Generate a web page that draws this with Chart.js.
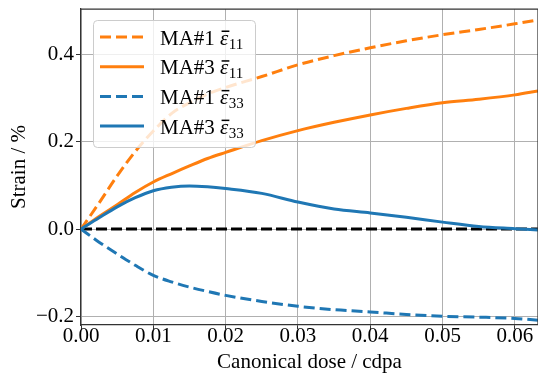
<!DOCTYPE html>
<html>
<head>
<meta charset="utf-8">
<script src="https://cdn.jsdelivr.net/npm/chart.js@4.4.0/dist/chart.umd.min.js"></script>
<style>
html, body { margin: 0; padding: 0; background: #fff; }
#wrap { width: 538px; height: 376px; }
</style>
</head>
<body>
<div id="wrap"><canvas id="chart" width="538" height="376"></canvas></div>
<script>
// Data (dose in cdpa, strain in %)
const doses  = [0, 0.0025, 0.005, 0.0075, 0.01, 0.0125, 0.015, 0.0175, 0.02, 0.025, 0.03, 0.035, 0.04, 0.045, 0.05, 0.055, 0.06, 0.0632];
const ma1E11 = [0, 0.06, 0.122, 0.178, 0.225, 0.265, 0.29, 0.31, 0.325, 0.35, 0.377, 0.398, 0.416, 0.432, 0.446, 0.458, 0.471, 0.48];
const ma3E11 = [0, 0.029, 0.056, 0.084, 0.108, 0.127, 0.145, 0.162, 0.176, 0.203, 0.226, 0.245, 0.262, 0.277, 0.29, 0.298, 0.308, 0.317];
const ma1E33 = [0, -0.03, -0.057, -0.083, -0.106, -0.121, -0.133, -0.143, -0.152, -0.166, -0.177, -0.185, -0.19, -0.196, -0.2, -0.202, -0.205, -0.209];
const ma3E33 = [0, 0.026, 0.051, 0.072, 0.088, 0.096, 0.099, 0.097, 0.093, 0.082, 0.062, 0.046, 0.037, 0.027, 0.016, 0.006, 0.001, -0.002];
const zeroLine = [0, 0];

const xTicks = [0, 0.01, 0.02, 0.03, 0.04, 0.05, 0.06];
const yTicks = [-0.2, 0, 0.2, 0.4];
const xRange = [0, 0.0632];
const yRange = [-0.22, 0.505];

const seriesNames = ['MA#1', 'MA#3', 'MA#1', 'MA#3'];
const seriesSubs = ['11', '11', '33', '33'];

const ORANGE = '#ff7f0e';
const BLUE = '#1f77b4';
const SERIF = '"Liberation Serif", "Times New Roman", serif';

const pts = ys => doses.map((d, i) => ({ x: d, y: ys[i] }));

function lineSet(label, ys, color, dashed, order) {
    return {
        label: label,
        data: pts(ys),
        borderColor: color,
        borderWidth: 3,
        borderDash: dashed ? [11, 5] : [],
        pointRadius: 0,
        cubicInterpolationMode: 'monotone',
        fill: false,
        order: order
    };
}

// frame (top/right spines) and the boxed legend inside the plot
const framePlugin = {
    id: 'frame',
    afterDatasetsDraw(chart) {
        const { ctx, chartArea: a } = chart;
        ctx.save();
        ctx.strokeStyle = '#333';
        ctx.lineWidth = 1.25;
        ctx.beginPath();
        ctx.moveTo(a.left, a.top);
        ctx.lineTo(a.right, a.top);
        ctx.lineTo(a.right, a.bottom);
        ctx.stroke();

        // legend box
        const bx = 93, by = 20, bw = 162, bh = 127;
        ctx.beginPath();
        ctx.roundRect(bx + 0.5, by + 0.5, bw, bh, 4);
        ctx.fillStyle = 'rgba(255,255,255,0.8)';
        ctx.fill();
        ctx.strokeStyle = '#cccccc';
        ctx.lineWidth = 1;
        ctx.stroke();

        chart.data.datasets.slice(0, 4).forEach((ds, i) => {
            const y = 37 + i * 29.7;
            ctx.save();
            ctx.strokeStyle = ds.borderColor;
            ctx.lineWidth = 3;
            ctx.setLineDash(ds.borderDash);
            ctx.beginPath();
            ctx.moveTo(100, y);
            ctx.lineTo(144, y);
            ctx.stroke();
            ctx.restore();

            const base = y + 7.5;
            ctx.fillStyle = '#000';
            ctx.textBaseline = 'alphabetic';
            ctx.font = '21px ' + SERIF;
            let x = 160;
            const name = seriesNames[i] + ' ';
            ctx.fillText(name, x, base);
            x += ctx.measureText(name).width;
            ctx.font = 'italic 21px ' + SERIF;
            const ew = ctx.measureText('\u03b5').width;
            ctx.fillText('\u03b5', x, base);
            ctx.fillRect(x + 1.5, base - 14, ew - 0.5, 1.5);
            x += ew + 0.5;
            ctx.font = '15px ' + SERIF;
            ctx.fillText(seriesSubs[i], x, base + 4);
        });
        ctx.restore();
    }
};

const tickFont = { family: SERIF, size: 21 };

new Chart(document.getElementById('chart'), {
    type: 'line',
    data: {
        datasets: [
            lineSet('MA#1 e11', ma1E11, ORANGE, true, 4),
            lineSet('MA#3 e11', ma3E11, ORANGE, false, 3),
            lineSet('MA#1 e33', ma1E33, BLUE, true, 2),
            lineSet('MA#3 e33', ma3E33, BLUE, false, 1),
            {
                label: 'zero',
                data: xRange.map((x, i) => ({ x: x, y: zeroLine[i] })),
                borderColor: '#000',
                borderWidth: 3,
                borderDash: [11, 4],
                pointRadius: 0,
                order: 5
            }
        ]
    },
    options: {
        responsive: false,
        devicePixelRatio: 1,
        animation: false,
        layout: { padding: { top: 9, right: 0, left: 0, bottom: 0 } },
        plugins: { legend: { display: false }, tooltip: { enabled: false } },
        scales: {
            x: {
                type: 'linear',
                min: xRange[0],
                max: xRange[1],
                afterBuildTicks: s => { s.ticks = xTicks.map(v => ({ value: v })); },
                afterFit: s => { s.height = 51; s.paddingLeft = 0; s.paddingRight = 0; },
                ticks: {
                    callback: v => v.toFixed(2),
                    font: tickFont,
                    color: '#000',
                    padding: -5,
                    maxRotation: 0,
                    autoSkip: false
                },
                grid: { color: '#b0b0b0', lineWidth: 1, tickColor: '#333', tickLength: 4 },
                border: { color: '#333', width: 1.25 },
                title: {
                    display: true,
                    text: 'Canonical dose / cdpa',
                    font: tickFont,
                    color: '#000',
                    padding: { top: 0, bottom: 1 }
                }
            },
            y: {
                type: 'linear',
                min: yRange[0],
                max: yRange[1],
                afterBuildTicks: s => { s.ticks = yTicks.map(v => ({ value: v })); },
                afterFit: s => { s.width = 81; s.paddingTop = 0; s.paddingBottom = 0; },
                ticks: {
                    callback: v => (v < -1e-9 ? '\u2212' : '') + Math.abs(v).toFixed(1),
                    font: tickFont,
                    color: '#000',
                    padding: 2
                },
                grid: { color: '#b0b0b0', lineWidth: 1, tickColor: '#333', tickLength: 5 },
                border: { color: '#333', width: 1.25 },
                title: {
                    display: true,
                    text: 'Strain / %',
                    font: tickFont,
                    color: '#000',
                    padding: { top: 7, bottom: 0 }
                }
            }
        }
    },
    plugins: [framePlugin]
});
</script>
</body>
</html>
